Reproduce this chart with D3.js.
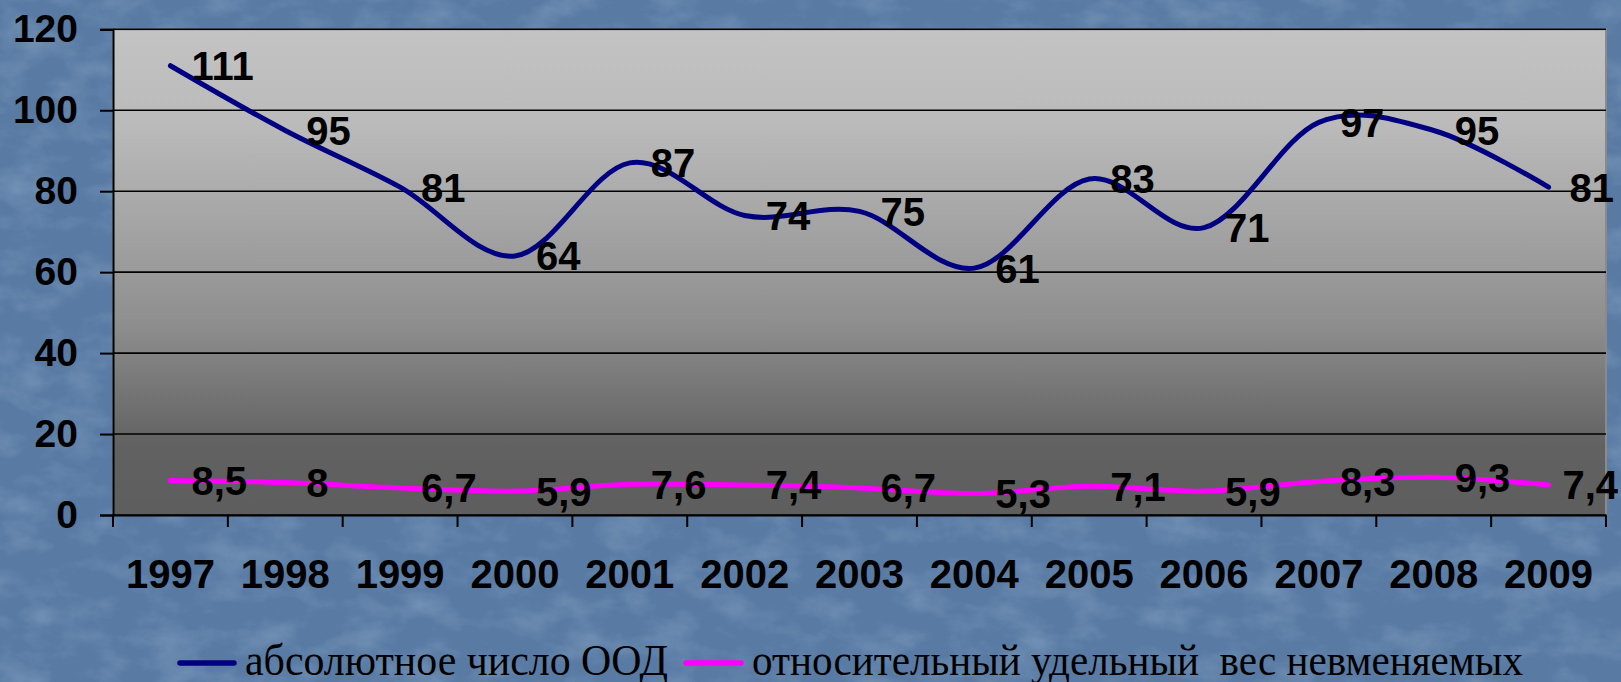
<!DOCTYPE html>
<html>
<head>
<meta charset="utf-8">
<script src="https://cdn.jsdelivr.net/npm/d3@7"></script>
<style>
  html, body { margin: 0; padding: 0; background: #5b7ba4; overflow: hidden; }
  svg { display: block; }
</style>
</head>
<body>
<div id="container"></div>
<script>
const years = ["1997", "1998", "1999", "2000", "2001", "2002", "2003", "2004", "2005", "2006", "2007", "2008", "2009"];
const absCount = [111, 95, 81, 64, 87, 74, 75, 61, 83, 71, 97, 95, 81];
const relShare = [8.5, 8, 6.7, 5.9, 7.6, 7.4, 6.7, 5.3, 7.1, 5.9, 8.3, 9.3, 7.4];
const yTicks = [0, 20, 40, 60, 80, 100, 120];
const seriesNames = ["абсолютное число ООД", "относительный удельный  вес невменяемых"];
const seriesColors = ["#000080", "#ff00ff"];

const w = 1621;
const h = 682;
const plot = { left: 113, right: 1606, top: 29.3, bottom: 515 };

const svg = d3.select('#container')
  .append('svg')
  .attr('width', w)
  .attr('height', h);

const defs = svg.append('defs');

// slide texture
const tex = defs.append('filter')
  .attr('id', 'tex')
  .attr('x', 0).attr('y', 0).attr('width', 1).attr('height', 1);
tex.append('feTurbulence')
  .attr('type', 'fractalNoise')
  .attr('baseFrequency', '0.02 0.035')
  .attr('numOctaves', 4)
  .attr('seed', 3);
tex.append('feColorMatrix')
  .attr('values', '0 0 0 0 0.52  0 0 0 0 0.64  0 0 0 0 0.80  1.3 0 0 0 -0.55');

const grad = defs.append('linearGradient')
  .attr('id', 'plotBg')
  .attr('x1', 0).attr('y1', 0).attr('x2', 0).attr('y2', 1);
[[0, '#c3c3c3'], [0.2, '#bababa'], [0.6, '#8f8f8f'], [0.86, '#616161'], [1, '#5e5e5e']]
  .forEach(([o, c]) => grad.append('stop').attr('offset', o).attr('stop-color', c));

svg.append('rect')
  .attr('width', w).attr('height', h)
  .attr('fill', '#587aa3');
svg.append('rect')
  .attr('width', w).attr('height', h)
  .attr('filter', 'url(#tex)')
  .attr('opacity', 0.4);

const x = d3.scaleBand()
  .domain(years)
  .range([plot.left, plot.right])
  .padding(0);

const y = d3.scaleLinear()
  .domain([0, 120])
  .range([plot.bottom, plot.top]);

const cx = (d, i) => x(years[i]) + x.bandwidth() / 2;

// plot area
svg.append('rect')
  .attr('x', plot.left)
  .attr('y', plot.top)
  .attr('width', plot.right - plot.left)
  .attr('height', plot.bottom - plot.top)
  .attr('fill', 'url(#plotBg)')
  .attr('stroke', '#8a8a8a')
  .attr('stroke-width', 2);

// gridlines
svg.append('g')
  .selectAll('line')
  .data(yTicks)
  .enter().append('line')
  .attr('x1', plot.left)
  .attr('x2', plot.right)
  .attr('y1', d => y(d))
  .attr('y2', d => y(d))
  .attr('stroke', '#000')
  .attr('stroke-width', 1.6);

// y axis
const yAxis = svg.append('g')
  .attr('transform', `translate(${plot.left},0)`)
  .call(d3.axisLeft(y).tickValues(yTicks).tickSize(13).tickPadding(22));
yAxis.select('.domain').attr('stroke', '#000').attr('stroke-width', 2);
yAxis.selectAll('.tick line').attr('stroke', '#000').attr('stroke-width', 2);
yAxis.selectAll('.tick text')
  .attr('fill', '#000')
  .style('font-family', '"Liberation Sans", Arial, sans-serif')
  .style('font-weight', 'bold')
  .style('font-size', '39px');

// x axis
const xAxis = svg.append('g')
  .attr('transform', `translate(0,${plot.bottom})`)
  .call(d3.axisBottom(x).tickSize(0).tickPadding(45));
xAxis.select('.domain').attr('stroke', '#000').attr('stroke-width', 2);
xAxis.selectAll('.tick text')
  .attr('fill', '#000')
  .style('font-family', '"Liberation Sans", Arial, sans-serif')
  .style('font-weight', 'bold')
  .style('font-size', '40px');

// category boundary ticks
xAxis.append('g')
  .selectAll('line')
  .data(years.concat(['end']))
  .enter().append('line')
  .attr('x1', d => d === 'end' ? plot.right : x(d))
  .attr('x2', d => d === 'end' ? plot.right : x(d))
  .attr('y1', 0)
  .attr('y2', 12)
  .attr('stroke', '#000')
  .attr('stroke-width', 2);

// lines
const line = d3.line()
  .x(cx)
  .y(d => y(d))
  .curve(d3.curveCardinal.tension(0));

[absCount, relShare].forEach((series, s) => {
  svg.append('path')
    .datum(series)
    .attr('fill', 'none')
    .attr('stroke', seriesColors[s])
    .attr('stroke-width', 5)
    .attr('stroke-linecap', 'round')
    .attr('stroke-linejoin', 'round')
    .attr('d', line);
});

// data labels
[absCount, relShare].forEach((series) => {
  svg.append('g')
    .selectAll('text')
    .data(series)
    .enter().append('text')
    .attr('x', (d, i) => cx(d, i) + 21)
    .attr('y', d => y(d))
    .attr('dy', '0.36em')
    .attr('fill', '#000')
    .style('font-family', '"Liberation Sans", Arial, sans-serif')
    .style('font-weight', 'bold')
    .style('font-size', '40px')
    .text(d => String(d).replace('.', ','))
    .each(function () {
      // keep the last labels inside the slide
      const len = this.getComputedTextLength();
      const x0 = +this.getAttribute('x');
      if (x0 + len > w - 3) this.setAttribute('x', w - 3 - len);
    });
});

// legend
const legendX = [[180, 234, 245, 423], [686, 741, 752, 771]];
seriesNames.forEach((name, s) => {
  const g = svg.append('g');
  g.append('line')
    .attr('x1', legendX[s][0])
    .attr('x2', legendX[s][1])
    .attr('y1', 663)
    .attr('y2', 663)
    .attr('stroke', seriesColors[s])
    .attr('stroke-width', 5.5)
    .attr('stroke-linecap', 'round');
  g.append('text')
    .attr('x', legendX[s][2])
    .attr('y', 675)
    .attr('fill', '#000')
    .attr('xml:space', 'preserve')
    .attr('textLength', legendX[s][3])
    .attr('lengthAdjust', 'spacingAndGlyphs')
    .style('white-space', 'pre')
    .style('font-family', '"Liberation Serif", "Times New Roman", serif')
    .style('font-size', '44px')
    .text(name);
});
</script>
</body>
</html>
